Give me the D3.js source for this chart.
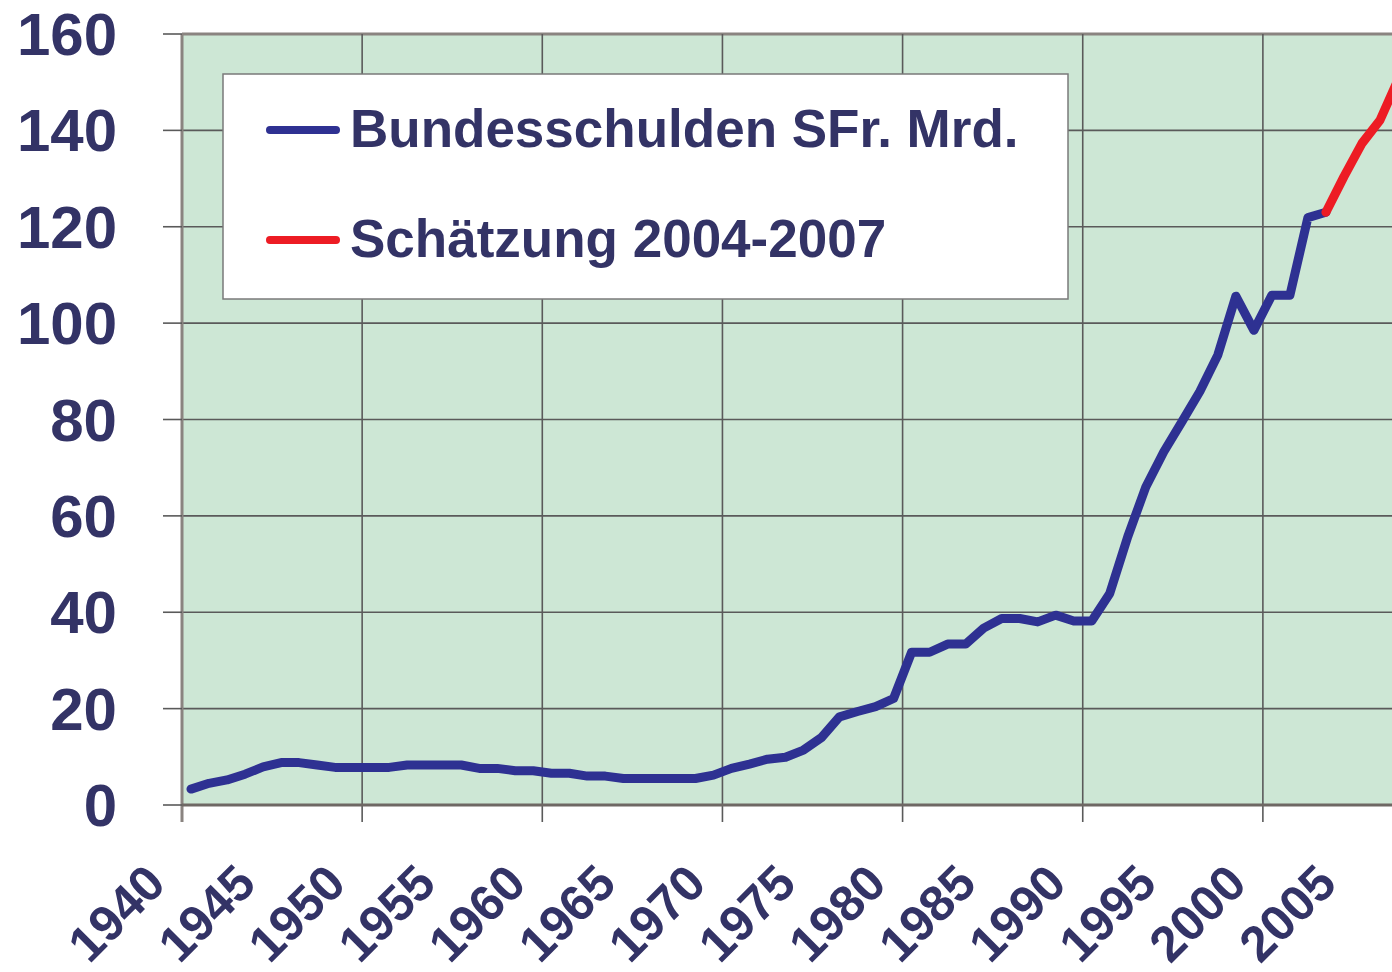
<!DOCTYPE html>
<html>
<head>
<meta charset="utf-8">
<script src="https://cdn.jsdelivr.net/npm/d3@7"></script>
<style>
  body { margin: 0; background: #fff; }
  svg { display: block; font-family: "Liberation Sans", Arial, Helvetica, sans-serif; font-weight: bold; }
</style>
</head>
<body>
<div id="chart"></div>
<script>
// Data
var firstYear = 1940;
var lastYear = 2007;
var years = d3.range(firstYear, lastYear + 1);

// Bundesschulden SFr. Mrd., 1940-2003
var debt = [
    3.3, 4.5, 5.2, 6.4, 7.9, 8.8, 8.8, 8.3, 7.8, 7.8,
    7.8, 7.8, 8.3, 8.3, 8.3, 8.3, 7.6, 7.6, 7.1, 7.1,
    6.6, 6.6, 6.0, 6.0, 5.5, 5.5, 5.5, 5.5, 5.5, 6.2,
    7.6, 8.5, 9.5, 9.9, 11.4, 14.0, 18.3, 19.4, 20.4, 22.1,
    31.7, 31.7, 33.4, 33.4, 36.7, 38.7, 38.7, 38.0, 39.4, 38.2,
    38.2, 43.9, 55.7, 66.0, 73.3, 79.5, 85.8, 93.4, 105.6, 98.5,
    105.8, 105.8, 121.9, 123.0
];

// Schätzung 2004-2007 (joined to 2003)
var estimateYears = [2003, 2004, 2005, 2006, 2007];
var estimate = [123.0, 130.4, 137.3, 142.1, 150.5];

var yTicks = [0, 20, 40, 60, 80, 100, 120, 140, 160];
var gridYears = [1940, 1950, 1960, 1970, 1980, 1990, 2000];
var labelYears = [1940, 1945, 1950, 1955, 1960, 1965, 1970, 1975, 1980, 1985, 1990, 1995, 2000, 2005];

var legendItems = ["Bundesschulden SFr. Mrd.", "Schätzung 2004-2007"];

// SVG
var svgWidth = 1392;
var svgHeight = 972;

var plot = { left: 182, top: 34, right: 1407, bottom: 805 };

var textColor = "#333366";
var blue = "#2e3192";
var red = "#ed1c24";

var svg = d3.select("#chart")
    .append("svg")
    .attr("width", svgWidth)
    .attr("height", svgHeight);

// Scales
var x = d3.scaleBand()
    .domain(years)
    .range([plot.left, plot.right])
    .padding(0);

var y = d3.scaleLinear()
    .domain([0, 160])
    .range([plot.bottom, plot.top]);

var cx = d => x(d) + x.bandwidth() / 2;

// Plot background
svg.append("rect")
    .attr("x", plot.left)
    .attr("y", plot.top)
    .attr("width", plot.right - plot.left)
    .attr("height", plot.bottom - plot.top)
    .attr("fill", "#cde7d5");

// Horizontal gridlines
svg.append("g")
    .selectAll("line")
    .data(yTicks.filter(d => d > 0))
    .enter()
    .append("line")
    .attr("x1", plot.left)
    .attr("x2", plot.right)
    .attr("y1", d => y(d))
    .attr("y2", d => y(d))
    .attr("stroke", d => d === 160 ? "#8a8480" : "#5a5a5a")
    .attr("stroke-width", d => d === 160 ? 3 : 1.6);

// Vertical gridlines
svg.append("g")
    .selectAll("line")
    .data(gridYears)
    .enter()
    .append("line")
    .attr("x1", d => x(d))
    .attr("x2", d => x(d))
    .attr("y1", plot.top)
    .attr("y2", plot.bottom + 17)
    .attr("stroke", d => d === firstYear ? "#8a8480" : "#5a5a5a")
    .attr("stroke-width", d => d === firstYear ? 3 : 1.6);

// Y tick marks
svg.append("g")
    .selectAll("line")
    .data(yTicks)
    .enter()
    .append("line")
    .attr("x1", plot.left - 19)
    .attr("x2", plot.left)
    .attr("y1", d => y(d))
    .attr("y2", d => y(d))
    .attr("stroke", "#5a5a5a")
    .attr("stroke-width", 1.6);

// X axis line
svg.append("line")
    .attr("x1", plot.left)
    .attr("x2", plot.right)
    .attr("y1", plot.bottom)
    .attr("y2", plot.bottom)
    .attr("stroke", "#6e6864")
    .attr("stroke-width", 3);

// Y labels
svg.append("g")
    .selectAll("text")
    .data(yTicks)
    .enter()
    .append("text")
    .attr("x", 117)
    .attr("y", d => y(d) + 21)
    .attr("text-anchor", "end")
    .attr("font-size", 60)
    .attr("fill", textColor)
    .text(d => d);

// X labels
svg.append("g")
    .selectAll("text")
    .data(labelYears)
    .enter()
    .append("text")
    .attr("text-anchor", "end")
    .attr("font-size", 50)
    .attr("fill", textColor)
    .attr("transform", d => `translate(${cx(d) - 23}, ${plot.bottom + 81}) rotate(-45)`)
    .text(d => d);

// Lines
var line = d3.line()
    .x(d => cx(d[0]))
    .y(d => y(d[1]));

svg.append("path")
    .datum(debt.map((v, i) => [firstYear + i, v]))
    .attr("d", line)
    .attr("fill", "none")
    .attr("stroke", blue)
    .attr("stroke-width", 9)
    .attr("stroke-linejoin", "round")
    .attr("stroke-linecap", "round");

svg.append("path")
    .datum(estimate.map((v, i) => [estimateYears[i], v]))
    .attr("d", line)
    .attr("fill", "none")
    .attr("stroke", red)
    .attr("stroke-width", 9)
    .attr("stroke-linejoin", "round")
    .attr("stroke-linecap", "round");

// Legend
var legend = svg.append("g");

legend.append("rect")
    .attr("x", 223)
    .attr("y", 74)
    .attr("width", 845)
    .attr("height", 225)
    .attr("fill", "#fff")
    .attr("stroke", "#7a7a7a")
    .attr("stroke-width", 1.5);

var legendRows = legend.selectAll("g")
    .data(legendItems)
    .enter()
    .append("g")
    .attr("transform", (d, i) => `translate(0, ${130 + i * 110})`);

legendRows.append("line")
    .attr("x1", 270)
    .attr("x2", 336)
    .attr("y1", 0)
    .attr("y2", 0)
    .attr("stroke", (d, i) => i === 0 ? blue : red)
    .attr("stroke-width", 8)
    .attr("stroke-linecap", "round");

legendRows.append("text")
    .attr("x", 350)
    .attr("y", 17)
    .attr("font-size", 53)
    .attr("fill", textColor)
    .text(d => d);
</script>
</body>
</html>
